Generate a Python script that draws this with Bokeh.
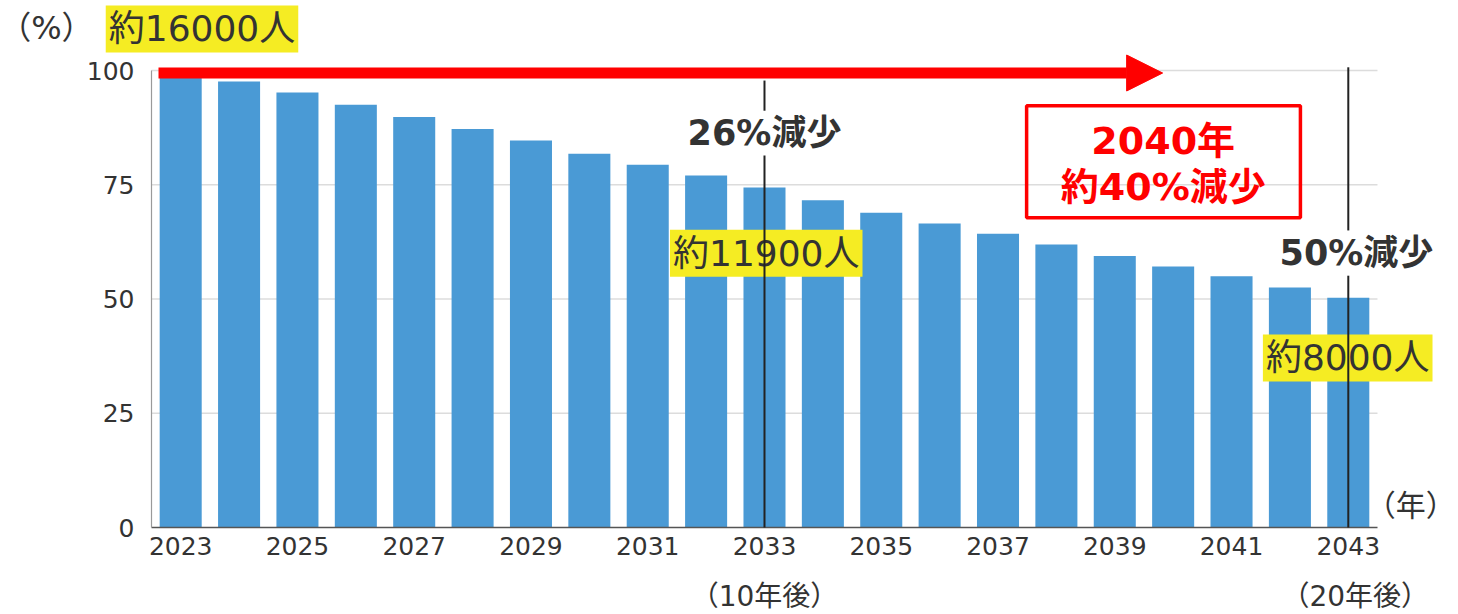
from bokeh.plotting import figure
from bokeh.models import (Range1d, FixedTicker, Label, BoxAnnotation, Arrow, NormalHead)
from bokeh.embed import file_html
from bokeh.resources import INLINE

years = [str(y) for y in range(2023, 2044)]
values = [100, 97.6, 95.2, 92.5, 89.8, 87.2, 84.7, 81.8, 79.4, 77.0, 74.4,
          71.6, 68.9, 66.5, 64.3, 61.9, 59.4, 57.1, 55.0, 52.5, 50.3]
y_ticks = [0, 25, 50, 75, 100]
x_tick_idx = list(range(0, 21, 2))
marker_idx = [10, 20]
marker_after = ["（10年後）", "（20年後）"]
marker_drop = ["26%減少", "50%減少"]
marker_people = ["約11900人", "約8000人"]
start_people = "約16000人"
box_lines = ["2040年", "約40%減少"]

FONT = "DejaVu Sans, Noto Sans CJK JP"
TXT = "#333333"
YEL = "#f5ec23"
BAR = "#4a9ad5"
RED = "#ff0000"

W, H = 1458, 614
# plot frame covers the whole canvas; axes are pinned inside it
PX_X, PX_Y = 58.38, 4.57
x0 = -0.5 - 151 / PX_X
y1 = 527 / PX_Y
p = figure(width=W, height=H, output_backend="svg", toolbar_location=None,
           x_range=Range1d(x0, x0 + W / PX_X), y_range=Range1d(y1 - H / PX_Y, y1),
           min_border=0)
p.outline_line_color = None
p.xgrid.visible = False
p.ygrid.visible = False

p.yaxis.fixed_location = -0.5
p.yaxis.bounds = (0, 100)
p.yaxis.ticker = FixedTicker(ticks=y_ticks)
p.yaxis.axis_line_color = "#9a9a9a"
p.yaxis.axis_line_width = 1.2
p.yaxis.major_tick_line_color = None
p.yaxis.major_tick_out = 0
p.yaxis.minor_tick_line_color = None
p.yaxis.major_label_text_font = FONT
p.yaxis.major_label_text_font_size = "25px"
p.yaxis.major_label_text_color = TXT
p.yaxis.major_label_standoff = 17

p.xaxis.fixed_location = 0
p.xaxis.bounds = (-0.5, 20.5)
p.xaxis.ticker = FixedTicker(ticks=x_tick_idx)
p.xaxis.major_label_overrides = {i: years[i] for i in x_tick_idx}
p.xaxis.axis_line_color = "#555555"
p.xaxis.axis_line_width = 1.5
p.xaxis.major_tick_line_color = None
p.xaxis.major_tick_out = 0
p.xaxis.minor_tick_line_color = None
p.xaxis.major_label_text_font = FONT
p.xaxis.major_label_text_font_size = "25px"
p.xaxis.major_label_text_color = TXT
p.xaxis.major_label_standoff = 9

# horizontal grid lines over the category span
p.segment(x0=[-0.5] * len(y_ticks[1:]), y0=y_ticks[1:], x1=[20.5] * len(y_ticks[1:]),
          y1=y_ticks[1:], line_color="#dcdcdc", line_width=1.3)

idx = list(range(len(years)))
p.vbar(x=idx, top=values, width=0.72, fill_color=BAR, line_color=None)

# arrow
p.add_layout(Arrow(x_start=-0.38, y_start=99.45, x_end=16.82, y_end=99.45,
                   line_color=RED, line_width=11,
                   end=NormalHead(size=36, fill_color=RED, line_color=RED)))

# red box
p.add_layout(BoxAnnotation(left=14.49, right=19.18, top=92.3, bottom=67.8,
                           fill_alpha=0, line_color=RED, line_width=3.5, line_alpha=1))
for yv, t in zip([84.6, 74.5], box_lines):
    p.add_layout(Label(x=16.83, y=yv, text=t, text_align="center", text_baseline="middle",
                       text_font=FONT, text_font_style="bold", text_font_size="38px",
                       text_color=RED))

def ylabel(x, y, t):
    p.add_layout(Label(x=x, y=y, text=t, text_align="center", text_baseline="middle",
                       text_font=FONT, text_font_size="36px", text_color=TXT,
                       background_fill_color=YEL, padding=3))

ylabel(0.365, 109.1, start_people)
ylabel(10.03, 60.0, marker_people[0])
ylabel(19.99, 37.1, marker_people[1])

# vertical marker lines (gap left for the drop labels)
p.segment(x0=marker_idx, y0=[0, 0], x1=marker_idx, y1=[81.4, 55.1],
          line_color="#222222", line_width=2, level="overlay")
p.segment(x0=marker_idx, y0=[91.2, 65.0], x1=marker_idx, y1=[97.8, 100.7],
          line_color="#222222", line_width=2, level="overlay")

for xv, yv, t in zip([10.0, 20.14], [86.3, 60.1], marker_drop):
    p.add_layout(Label(x=xv, y=yv, text=t, text_align="center",
                       text_baseline="middle", text_font=FONT, text_font_style="bold",
                       text_font_size="35px", text_color=TXT))

for xv, t in zip([10.0, 20.12], marker_after):
    p.add_layout(Label(x=xv, y=-15.1, text=t, text_align="center",
                       text_baseline="middle", text_font=FONT, text_font_size="28px",
                       text_color=TXT))

p.add_layout(Label(x=-2.3, y=109.3, text="（%）", text_align="center", text_baseline="middle",
                   text_font=FONT, text_font_size="32px", text_color=TXT))
p.add_layout(Label(x=21.84, y=4.8, text="（年）", text_align="right", text_baseline="middle",
                   text_font=FONT, text_font_size="30px", text_color=TXT))

open("out.html", "w").write(file_html(p, INLINE))
